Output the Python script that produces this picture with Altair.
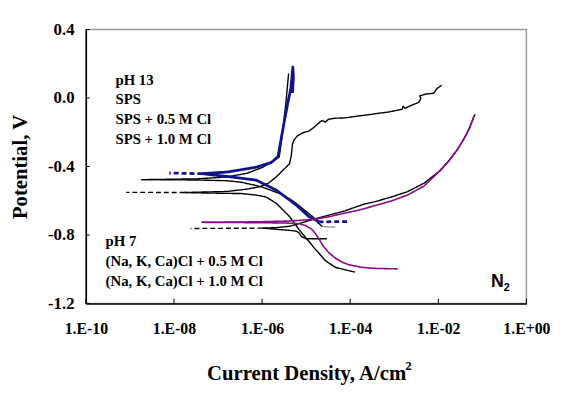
import altair as alt
import pandas as pd

# ---------------- data ----------------
x_ticks = [1e-10, 1e-8, 1e-6, 1e-4, 1e-2, 1e0]
y_ticks = [-1.2, -0.8, -0.4, 0.0, 0.4]

# pH 13 : SPS (blue)
sps_end_I = [8.5e-5, 2.0e-5]
sps_end_V = [-0.722, -0.723]
sps_cath_I = [2.0e-5, 1.62e-5, 1.15e-5, 5.9e-6, 2.1e-6, 7.4e-7, 1.58e-7, 8e-8, 4.4e-8]
sps_cath_V = [-0.724, -0.711, -0.692, -0.624, -0.538, -0.480, -0.458, -0.450, -0.442]
sps_tip_I = [4.4e-8, 7.8e-9]
sps_tip_V = [-0.442, -0.438]
sps_anod_I = [4.4e-8, 8e-8, 1.58e-7, 7.4e-7, 1.62e-6, 2.3e-6, 3.2e-6, 3.9e-6, 4.5e-6, 5.0e-6, 5.15e-6, 4.9e-6]
sps_anod_V = [-0.442, -0.437, -0.433, -0.404, -0.377, -0.342, -0.135, -0.020, 0.056, 0.181, 0.120, 0.030]

# pH 13 : SPS + 0.5 M Cl (black)
s05_tail_I = [4.6e-5, 2.35e-5]
s05_tail_V = [-0.754, -0.751]
s05_cath_I = [2.35e-5, 1.9e-5, 1.41e-5, 8.7e-6, 5.0e-6, 2.7e-6, 9.5e-7, 3.4e-7, 1.58e-7, 3.4e-8, 4.3e-9, 1.8e-9]
s05_cath_V = [-0.751, -0.731, -0.693, -0.650, -0.601, -0.561, -0.518, -0.492, -0.483, -0.479, -0.477, -0.477]
s05_anod_I = [1.8e-9, 3.4e-8, 1.58e-7, 4.5e-7, 1.05e-6, 1.7e-6, 2.45e-6, 2.95e-6, 3.5e-6, 4.0e-6]
s05_anod_V = [-0.477, -0.472, -0.461, -0.440, -0.404, -0.371, -0.346, -0.193, -0.020, 0.143]

# pH 13 : SPS + 1.0 M Cl (black, pitting)
s10_cath_I = [1.29e-4, 9.1e-5, 4.6e-5, 2.75e-5, 1.62e-5, 9.8e-6, 6.9e-6, 4.2e-6, 2.1e-6, 1.23e-6,
              7.4e-7, 3.4e-7, 1.58e-7, 3.4e-8, 1.74e-8]
s10_cath_V = [-1.017, -1.008, -0.989, -0.950, -0.883, -0.816, -0.768, -0.692, -0.615, -0.578,
              -0.567, -0.558, -0.557, -0.554, -0.552]
s10_tip_I = [1.74e-8, 8.3e-10]
s10_tip_V = [-0.552, -0.551]
s10_anod_I = [1.74e-8, 3.4e-8, 1.58e-7, 4.5e-7, 8.7e-7, 1.38e-6, 2.1e-6, 2.95e-6, 4.2e-6, 4.6e-6,
              4.9e-6, 5.4e-6, 6.3e-6, 8.3e-6, 1.15e-5, 1.48e-5, 1.95e-5, 2.3e-5, 2.75e-5, 3.2e-5,
              4.6e-5, 7.6e-5, 1.66e-4, 3.5e-4, 7.8e-4, 1.5e-3, 1.6e-3, 1.75e-3, 2.6e-3, 3.6e-3,
              4.0e-3, 3.8e-3, 5.2e-3, 7.9e-3, 9.3e-3, 1.07e-2, 1.2e-2]
s10_anod_V = [-0.552, -0.550, -0.546, -0.532, -0.519, -0.498, -0.461, -0.423, -0.384, -0.337,
              -0.269, -0.242, -0.222, -0.204, -0.193, -0.173, -0.145, -0.131, -0.141, -0.124,
              -0.118, -0.116, -0.104, -0.093, -0.081, -0.066, -0.048, -0.060, -0.040, -0.026,
              -0.003, 0.012, 0.023, 0.028, 0.055, 0.066, 0.075]

# pH 7 : (Na, K, Ca)Cl + 0.5 M Cl (purple)
n05_cath_I = [1.2e-3, 3.5e-4, 1.82e-4, 9.1e-5, 6.5e-5, 4.6e-5, 3.2e-5, 2.45e-5, 2.0e-5, 1.62e-5,
              1.32e-5, 9.8e-6, 6.9e-6, 3.5e-6, 7.4e-7, 1.58e-7, 4.2e-8]
n05_cath_V = [-0.998, -0.995, -0.989, -0.973, -0.958, -0.935, -0.901, -0.866, -0.826, -0.791,
              -0.765, -0.745, -0.734, -0.730, -0.728, -0.727, -0.726]
n05_anod_I = [4.2e-8, 1.58e-7, 7.4e-7, 3.5e-6, 8.3e-6, 1.62e-5, 3.2e-5, 6.5e-5, 1.48e-4, 3.5e-4,
              8.7e-4, 2.0e-3, 4.7e-3, 9.3e-3, 1.7e-2, 2.6e-2, 3.7e-2, 5.2e-2, 6.5e-2]
n05_anod_V = [-0.726, -0.725, -0.723, -0.719, -0.714, -0.707, -0.694, -0.676, -0.656, -0.630,
              -0.601, -0.567, -0.515, -0.442, -0.371, -0.308, -0.245, -0.174, -0.102]

# pH 7 : (Na, K, Ca)Cl + 1.0 M Cl (black)
n10_tip_I = [1.02e-6, 2.4e-8]
n10_tip_V = [-0.760, -0.762]
n10_cath_I = [2.95e-5, 9.8e-6, 7.9e-6, 6.8e-6, 5.9e-6, 3.5e-6, 2.1e-6, 1.02e-6]
n10_cath_V = [-0.822, -0.822, -0.809, -0.786, -0.777, -0.771, -0.767, -0.760]
n10_anod_I = [1.02e-6, 2.1e-6, 4.2e-6, 9.8e-6, 1.62e-5, 3.5e-5, 7.6e-5, 2.1e-4, 3.5e-4, 8.7e-4,
              2.0e-3, 4.7e-3, 1.12e-2, 2.0e-2, 3.0e-2, 4.4e-2, 5.9e-2, 6.8e-2]
n10_anod_V = [-0.760, -0.757, -0.749, -0.722, -0.705, -0.682, -0.659, -0.619, -0.607, -0.578,
              -0.547, -0.498, -0.423, -0.348, -0.285, -0.210, -0.135, -0.095]

ph13_lines = ["pH 13", "SPS", "SPS + 0.5 M Cl", "SPS + 1.0 M Cl"]
ph7_lines = ["pH 7", "(Na, K, Ca)Cl + 0.5 M Cl", "(Na, K, Ca)Cl + 1.0 M Cl"]

# ---------------- build tables ----------------
segments = [
    # (segment id, group, line style, I, V)
    ("sps_end", "blue", "dash", sps_end_I, sps_end_V),
    ("sps_cath", "blue", "solid", sps_cath_I, sps_cath_V),
    ("sps_tip", "blue", "dash", sps_tip_I, sps_tip_V),
    ("sps_anod", "blue", "solid", sps_anod_I, sps_anod_V),
    ("s05_tail", "faint", "solid", s05_tail_I, s05_tail_V),
    ("s05_cath", "black", "solid", s05_cath_I, s05_cath_V),
    ("s05_anod", "black", "solid", s05_anod_I, s05_anod_V),
    ("s10_cath", "black", "solid", s10_cath_I, s10_cath_V),
    ("s10_tip", "black", "dash", s10_tip_I, s10_tip_V),
    ("s10_anod", "black", "solid", s10_anod_I, s10_anod_V),
    ("n05_cath", "purple", "solid", n05_cath_I, n05_cath_V),
    ("n05_anod", "purple", "solid", n05_anod_I, n05_anod_V),
    ("n10_tip", "black", "dash", n10_tip_I, n10_tip_V),
    ("n10_cath", "black", "solid", n10_cath_I, n10_cath_V),
    ("n10_anod", "black", "solid", n10_anod_I, n10_anod_V),
]
rows = []
for sid, grp, sty, Is, Vs in segments:
    for k, (i, v) in enumerate(zip(Is, Vs)):
        rows.append({"seg": sid, "grp": grp, "sty": sty, "o": k, "I": i, "V": v})
df = pd.DataFrame(rows)

W, H = 447, 278
SERIF = "Liberation Serif"

xscale = alt.Scale(type="log", domain=[1e-10, 1], nice=False)
yscale = alt.Scale(domain=[-1.2, 0.4], nice=False, zero=False)

exp_expr = "round(log(datum.value)/LN10)"
xaxis = alt.Axis(
    values=x_ticks, grid=False, ticks=False, tickSize=0,
    labelExpr=f"'1.E' + ({exp_expr} < 0 ? '-' : '+') + (abs({exp_expr}) < 10 ? '0' : '') + abs({exp_expr})",
    labelFont=SERIF, labelFontSize=16, labelFontWeight="bold", labelColor="black",
    labelPadding=17, labelFlush=False, labelOverlap=False,
    domainColor="black", domainWidth=1.5,
    title="Current Density, A/cm", titleFont=SERIF, titleFontSize=21, titleFontWeight="bold",
    titleColor="black", titleY=77, titleBaseline="alphabetic",
)
yaxis = alt.Axis(
    values=y_ticks, grid=False, ticks=False, tickSize=0,
    labelExpr="replace(format(datum.value, '.1f'), '\u2212', '-')",
    labelFont=SERIF, labelFontSize=17, labelFontWeight="bold", labelColor="black",
    labelPadding=12, labelFlush=False, labelOverlap=False,
    domainColor="black", domainWidth=1.5,
    title="Potential, V", titleFont=SERIF, titleFontSize=21, titleFontWeight="bold",
    titleColor="black", titleAngle=270, titleX=-66, titleY=H / 2,
    titleAlign="center", titleBaseline="middle",
)


def X():
    return alt.X("I:Q", scale=xscale, axis=xaxis)


def Y():
    return alt.Y("V:Q", scale=yscale, axis=yaxis)


dash_scale = alt.Scale(domain=["solid", "dash"], range=[[1, 0], [5, 3]])


def lines(grp, color, width):
    return (
        alt.Chart(df)
        .transform_filter(alt.datum.grp == grp)
        .mark_line(color=color, strokeWidth=width, strokeJoin="round", strokeCap="butt")
        .encode(
            x=X(), y=Y(), detail="seg:N", order="o:Q",
            strokeDash=alt.StrokeDash("sty:N", scale=dash_scale, legend=None),
        )
    )


faint = lines("faint", "#9a9a9a", 1.4)
black = lines("black", "black", 1.4)
blue = lines("blue", "#10138c", 2.8)
purple = lines("purple", "#8a0a8a", 1.6)

xt = alt.Chart(pd.DataFrame({"I": x_ticks})).mark_rule(color="black", strokeWidth=1).encode(
    x=X(), y=alt.value(H - 5), y2=alt.value(H))
yt = alt.Chart(pd.DataFrame({"V": y_ticks})).mark_rule(color="black", strokeWidth=1).encode(
    y=Y(), x=alt.value(0), x2=alt.value(4))

one = alt.Data(values=[{}])


def label(text, x, y, size, font=SERIF, line_height=20):
    return alt.Chart(one).mark_text(
        align="left", baseline="alphabetic", font=font, fontSize=size, fontWeight="bold",
        color="black", lineHeight=line_height,
    ).encode(x=alt.value(x), y=alt.value(y), text=alt.value(text))


txt13 = label(ph13_lines, 30, 56, 15)
txt7 = label(ph7_lines, 20, 220, 15)
n_txt = label("N", 411, 261, 18, font="Liberation Sans")
n_sub = label("2", 424, 265, 11, font="Liberation Sans")
sup2 = label("2", 324, 345, 13)

chart = (
    alt.layer(faint, black, blue, purple, xt, yt, txt13, txt7, n_txt, n_sub, sup2)
    .properties(
        width=W, height=H,
        padding={"left": 79, "top": 19, "right": 27, "bottom": 87},
        autosize=alt.AutoSizeParams(type="none"),
    )
    .configure_view(stroke="#9a9a9a", strokeWidth=1.5)
)

chart.save("out.html", embed_options={"renderer": "svg", "actions": False})
